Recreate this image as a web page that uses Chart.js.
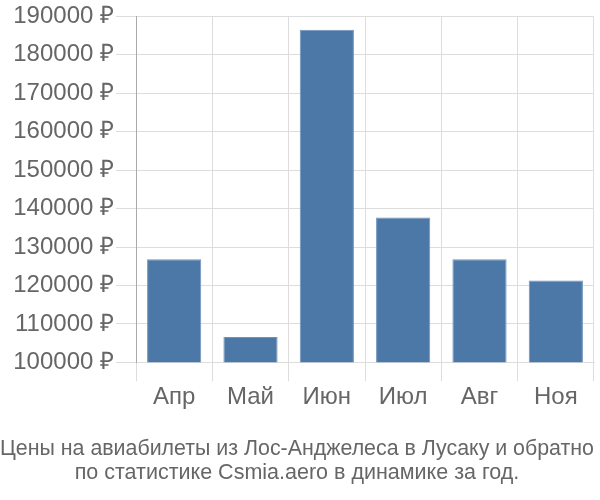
<!DOCTYPE html>
<html>
<head>
<meta charset="utf-8">
<script src="https://cdn.jsdelivr.net/npm/chart.js@4/dist/chart.umd.min.js"></script>
<style>
  html, body { margin: 0; padding: 0; background: #fff; }
  #wrap { width: 600px; height: 500px; }
</style>
</head>
<body>
<div id="wrap"><canvas id="Prices"></canvas></div>
<script>
const months = ['Апр', 'Май', 'Июн', 'Июл', 'Авг', 'Ноя'];
const prices = [126800, 106600, 186500, 137700, 126800, 121300];
const yTicks = [100000, 110000, 120000, 130000, 140000, 150000, 160000, 170000, 180000, 190000];
const titleLines = [
    'Цены на авиабилеты из Лос-Анджелеса в Лусаку и обратно',
    'по статистике Csmia.aero в динамике за год.'
];

const ctx = document.getElementById('Prices').getContext('2d');

var myChart = new Chart(ctx, {
    type: 'bar',
    data: {
        labels: months,
        datasets: [{
            label: '',
            data: prices,
            backgroundColor: '#4c78a8',
            borderColor: '#6f93bb',
            borderWidth: { top: 1, left: 1, right: 1, bottom: 0 },
            barPercentage: 0.71,
            categoryPercentage: 1
        }]
    },
    options: {
        responsive: true,
        maintainAspectRatio: false,
        animation: false,
        layout: { padding: { left: 0, right: 6, top: 2, bottom: 14 } },
        plugins: {
            legend: { display: false },
            tooltip: { enabled: false },
            title: {
                display: true,
                position: 'bottom',
                text: titleLines,
                color: '#666',
                font: { family: 'Liberation Sans', size: 21.5, weight: 'normal', lineHeight: 1.16 },
                padding: { top: 22, bottom: 0 }
            }
        },
        scales: {
            x: {
                offset: true,
                grid: { color: '#dddddd', offset: true, tickLength: 19, lineWidth: 1 },
                border: { color: '#dddddd' },
                ticks: {
                    color: '#666',
                    font: { family: 'Liberation Sans', size: 24 },
                    padding: 2
                }
            },
            y: {
                min: 100000,
                max: 190000,
                afterBuildTicks: axis => { axis.ticks = yTicks.map(v => ({ value: v })); },
                afterFit: axis => { axis.width = 136; },
                grid: { color: '#dddddd', tickLength: 20, lineWidth: 1 },
                border: { color: '#aaaaaa' },
                ticks: {
                    color: '#666',
                    font: { family: 'Liberation Sans', size: 24 },
                    padding: 2,
                    callback: v => v + ' ₽'
                }
            }
        }
    }
});
</script>
</body>
</html>
